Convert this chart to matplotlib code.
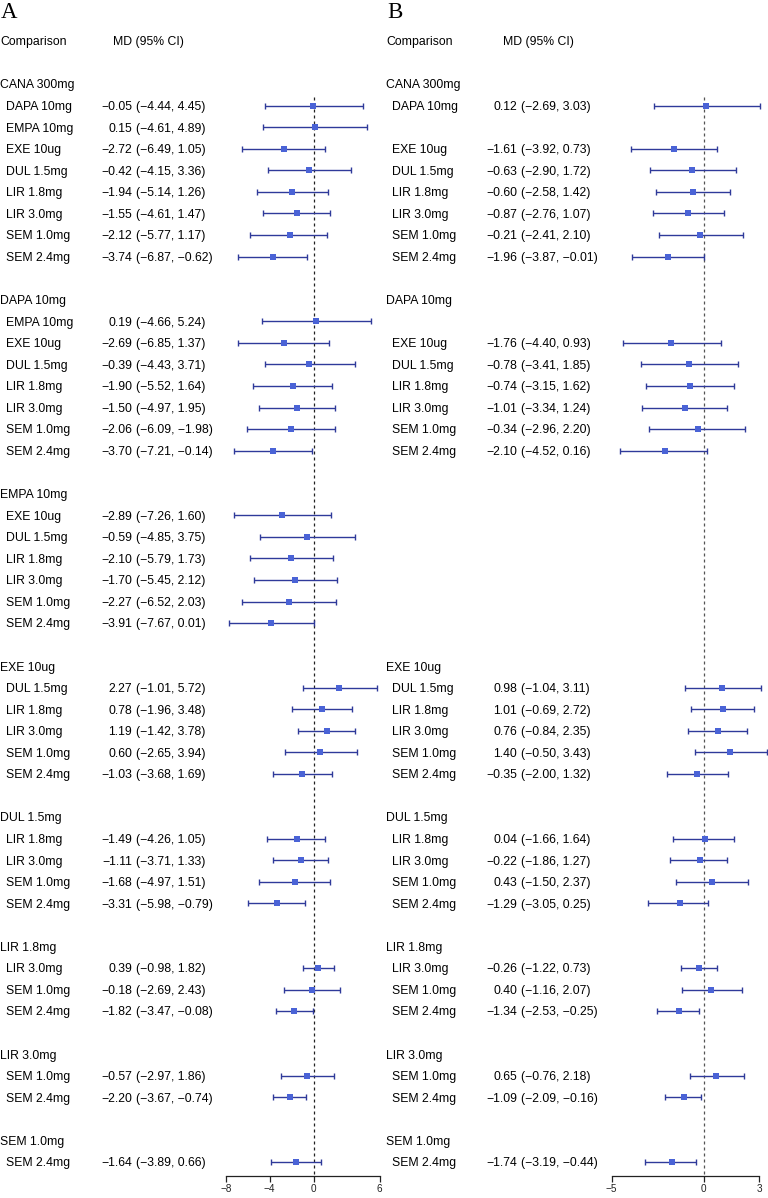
import numpy as np
import matplotlib
matplotlib.use("Agg")
import matplotlib.pyplot as plt
from matplotlib import font_manager

nan = np.nan

treatments = ["CANA 300mg", "DAPA 10mg", "EMPA 10mg", "EXE 10ug", "DUL 1.5mg",
              "LIR 1.8mg", "LIR 3.0mg", "SEM 1.0mg", "SEM 2.4mg"]

# Panel A (pairs in order: group i vs comparators i+1..)
a_est = [-0.05, 0.15, -2.72, -0.42, -1.94, -1.55, -2.12, -3.74,
         0.19, -2.69, -0.39, -1.90, -1.50, -2.06, -3.70,
         -2.89, -0.59, -2.10, -1.70, -2.27, -3.91,
         2.27, 0.78, 1.19, 0.60, -1.03,
         -1.49, -1.11, -1.68, -3.31,
         0.39, -0.18, -1.82,
         -0.57, -2.20,
         -1.64]
a_lo = [-4.44, -4.61, -6.49, -4.15, -5.14, -4.61, -5.77, -6.87,
        -4.66, -6.85, -4.43, -5.52, -4.97, -6.09, -7.21,
        -7.26, -4.85, -5.79, -5.45, -6.52, -7.67,
        -1.01, -1.96, -1.42, -2.65, -3.68,
        -4.26, -3.71, -4.97, -5.98,
        -0.98, -2.69, -3.47,
        -2.97, -3.67,
        -3.89]
a_hi = [4.45, 4.89, 1.05, 3.36, 1.26, 1.47, 1.17, -0.62,
        5.24, 1.37, 3.71, 1.64, 1.95, 1.98, -0.14,
        1.60, 3.75, 1.73, 2.12, 2.03, 0.01,
        5.72, 3.48, 3.78, 3.94, 1.69,
        1.05, 1.33, 1.51, -0.79,
        1.82, 2.43, -0.08,
        1.86, -0.74,
        0.66]
# printed text differs from drawn interval for one row in the original
a_text_override = {13: "(\u22126.09, \u22121.98)"}

# Panel B
b_est = [0.12, nan, -1.61, -0.63, -0.60, -0.87, -0.21, -1.96,
         nan, -1.76, -0.78, -0.74, -1.01, -0.34, -2.10,
         nan, nan, nan, nan, nan, nan,
         0.98, 1.01, 0.76, 1.40, -0.35,
         0.04, -0.22, 0.43, -1.29,
         -0.26, 0.40, -1.34,
         0.65, -1.09,
         -1.74]
b_lo = [-2.69, nan, -3.92, -2.90, -2.58, -2.76, -2.41, -3.87,
        nan, -4.40, -3.41, -3.15, -3.34, -2.96, -4.52,
        nan, nan, nan, nan, nan, nan,
        -1.04, -0.69, -0.84, -0.50, -2.00,
        -1.66, -1.86, -1.50, -3.05,
        -1.22, -1.16, -2.53,
        -0.76, -2.09,
        -3.19]
b_hi = [3.03, nan, 0.73, 1.72, 1.42, 1.07, 2.10, -0.01,
        nan, 0.93, 1.85, 1.62, 1.24, 2.20, 0.16,
        nan, nan, nan, nan, nan, nan,
        3.11, 2.72, 2.35, 3.43, 1.32,
        1.64, 1.27, 2.37, 0.25,
        0.73, 2.07, -0.25,
        2.18, -0.16,
        -0.44]

a_ticks = [-8, -4, 0, 6]
b_ticks = [-5, 0, 3]

# ---------------- layout ----------------
W, H = 768, 1198
ROW0, DY = 41.0, 21.56
AXIS_Y = 1176.0


def row_of(p):
    return (p - ROW0) / DY


pairs = []
group_rows = []
r = 2
for g in range(8):
    group_rows.append(r)
    r += 1
    for c in range(g + 1, 9):
        pairs.append((g, c, r))
        r += 1
    r += 1

avail = {f.name for f in font_manager.fontManager.ttflist}
SANS = "Liberation Sans" if "Liberation Sans" in avail else "DejaVu Sans"
NARROW = "Liberation Sans Narrow" if "Liberation Sans Narrow" in avail else SANS
SERIF = "Liberation Serif" if "Liberation Serif" in avail else "DejaVu Serif"

FS = 8.8
BASE = 4.3 / DY  # baseline offset (rows)
MINUS = "\u2212"

LINE_C = "#2f3a9a"
SQ_C = "#4a63d6"


def fmt(v):
    s = f"{v:.2f}"
    return s.replace("-", MINUS)


fig = plt.figure(figsize=(W / 100, H / 100), dpi=100)
bg = fig.add_axes([0, 0, 1, 1])
bg.set_xlim(0, W)
bg.set_ylim(row_of(H), row_of(0))
bg.axis("off")

panels = [
    dict(letter="A", est=a_est, lo=a_lo, hi=a_hi, ticks=a_ticks, xlim=(-8, 6),
         px=(225.7, 379.7), xl=1, xg=0, xc=6, xmd=113, xe=132, xci=136,
         override=a_text_override, dash_c="#222222"),
    dict(letter="B", est=b_est, lo=b_lo, hi=b_hi, ticks=b_ticks, xlim=(-5, 3),
         px=(611.5, 759.3), xl=387, xg=386, xc=392, xmd=503, xe=517, xci=521,
         override={}, dash_c="#555555"),
]

for P in panels:
    est = np.array(P["est"], float)
    lo = np.array(P["lo"], float)
    hi = np.array(P["hi"], float)
    # panel letter
    bg.text(P["xl"], row_of(18.5), P["letter"], family=SERIF, fontsize=16.5,
            ha="left", va="baseline", color="black")
    # header
    bg.text(P["xg"], 0 + BASE, "Comparison", family=SANS, fontsize=FS,
            ha="left", va="baseline")
    bg.text(P["xmd"], 0 + BASE, "MD (95% CI)", family=SANS, fontsize=FS,
            ha="left", va="baseline")
    # group labels: show only if group has any data
    for g, gr in enumerate(group_rows):
        idx = [i for i, p in enumerate(pairs) if p[0] == g]
        if np.all(np.isnan(est[idx])):
            continue
        bg.text(P["xg"], gr + BASE, treatments[g], family=SANS, fontsize=FS,
                ha="left", va="baseline")
    rows = []
    for i, (g, c, rr) in enumerate(pairs):
        rows.append(rr)
        if np.isnan(est[i]):
            continue
        bg.text(P["xc"], rr + BASE, treatments[c], family=SANS, fontsize=FS,
                ha="left", va="baseline")
        bg.text(P["xe"], rr + BASE, fmt(est[i]), family=SANS, fontsize=FS,
                ha="right", va="baseline")
        ci = P["override"].get(i, f"({fmt(lo[i])}, {fmt(hi[i])})")
        bg.text(P["xci"], rr + BASE, ci, family=SANS, fontsize=FS,
                ha="left", va="baseline")
    rows = np.array(rows, float)

    x0, x1 = P["px"]
    ax = fig.add_axes([x0 / W, (H - AXIS_Y) / H, (x1 - x0) / W, AXIS_Y / H])
    ax.set_xlim(*P["xlim"])
    ax.set_ylim(row_of(AXIS_Y), row_of(0))
    ax.patch.set_visible(False)
    for s in ["top", "right", "left"]:
        ax.spines[s].set_visible(False)
    ax.spines["bottom"].set_linewidth(0.9)
    ax.spines["bottom"].set_color("#222222")
    ax.set_yticks([])
    ax.set_xticks(P["ticks"])
    ax.set_xticklabels([str(t).replace("-", MINUS) for t in P["ticks"]],
                       family=NARROW, fontsize=7.2)
    ax.tick_params(axis="x", direction="out", length=4.5, width=0.9,
                   color="#222222", pad=1.5, labelcolor="#222222")

    m = ~np.isnan(est)
    ax.vlines(0, 2.6, row_of(AXIS_Y), colors=P["dash_c"], linewidth=0.9,
              linestyles=(0, (2.4, 2.4)), zorder=1)
    cont = ax.errorbar(est[m], rows[m], xerr=[est[m] - lo[m], hi[m] - est[m]],
                       fmt="none", ecolor=LINE_C, elinewidth=1.0, capsize=1.9,
                       capthick=1.0, zorder=2)
    for art in cont.get_children():
        art.set_clip_on(False)
    ax.plot(est[m], rows[m], "s", color=SQ_C, markersize=4.3,
            markeredgewidth=0, zorder=3, clip_on=False)

fig.savefig("out.png", dpi=100)
